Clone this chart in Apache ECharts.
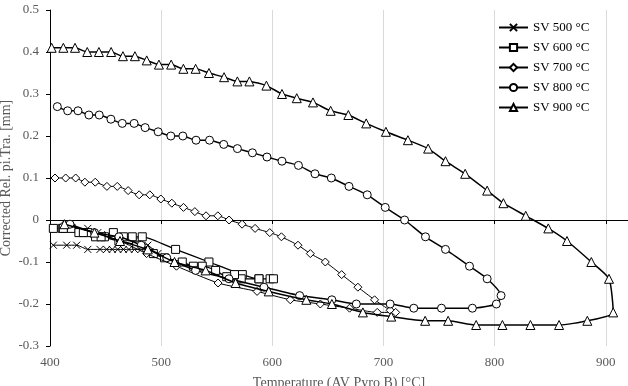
<!DOCTYPE html>
<html>
<head>
<meta charset="utf-8">
<script src="https://cdn.jsdelivr.net/npm/echarts@6/dist/echarts.min.js"></script>
<style>
  html, body { margin: 0; padding: 0; background: #fff; }
  #chart1 { width: 628px; height: 386px; }
</style>
</head>
<body>
<div id="chart1"></div>
<script>
// temperature [°C], displacement [mm]
var sv500 = [[403,-0.06],[415,-0.06],[424,-0.06],[434,-0.07],[445,-0.07],[451,-0.07],[456,-0.07],[461,-0.07],[466,-0.07],[471,-0.07],[476,-0.07],[482,-0.07],[490,-0.075],[497,-0.08],
    [488,-0.06],[476,-0.05],[465,-0.04],[452,-0.035],[443,-0.03],[434,-0.02]];
var sv600 = [[403,-0.02],[411,-0.02],[419,-0.02],[426,-0.03],[434,-0.03],[441,-0.04],[449,-0.04],[457,-0.03],[466,-0.04],[474,-0.04],[483,-0.04],[513,-0.07],[543,-0.10],[573,-0.13],[588,-0.14],[598,-0.14],[601,-0.14],
    [588,-0.14],[572,-0.14],[566,-0.13],[559,-0.135],[549,-0.12],[537,-0.11],[529,-0.11],[519,-0.10],[503,-0.09],[493,-0.08],[478,-0.06],[462,-0.05],[446,-0.04],[430,-0.03],[412,-0.02]];
var sv700 = [[404.5,0.10],[414.1,0.10],[423.1,0.10],[431.4,0.09],[440.7,0.09],[451.2,0.08],[460.5,0.08],[470.3,0.07],[480.2,0.06],[489.8,0.06],[499.7,0.05],[509.6,0.04],[520.1,0.03],[530.3,0.02],[540.4,0.01],[551,0.01],[561.1,0.00],[572.8,-0.01],[584.5,-0.02],[597.7,-0.03],[608.2,-0.04],[623.1,-0.06],[634.2,-0.08],[647.7,-0.10],[662.4,-0.13],[677,-0.16],[692,-0.19],[706,-0.215],[711,-0.22],
    [694.4,-0.22],[669.5,-0.21],[643.2,-0.20],[616.2,-0.19],[586.3,-0.17],[551.2,-0.15],[513.8,-0.11],[486.9,-0.08],[463,-0.05],[440,-0.03],[413,-0.01]];
var sv800 = [[406.6,0.27],[415.9,0.26],[425.2,0.26],[435,0.25],[444.3,0.25],[454.8,0.24],[465,0.23],[475.7,0.23],[485.6,0.22],[497.3,0.21],[508.7,0.20],[519.5,0.20],[531.4,0.19],[543.5,0.19],[556.3,0.18],[568.6,0.17],[582.1,0.16],[595.2,0.15],[608.7,0.14],[623.5,0.13],[638.4,0.11],[653.1,0.10],[669,0.08],[685.4,0.06],[701.6,0.03],[719,0.00],[737.8,-0.04],[755.8,-0.07],[777.4,-0.11],[793.3,-0.14],[805.8,-0.18],[801.6,-0.20],
    [780,-0.21],[752.2,-0.21],[727.3,-0.21],[706,-0.20],[675.6,-0.20],[653.6,-0.19],[624.6,-0.18],[592.5,-0.16],[561,-0.14],[531,-0.12],[505,-0.09],[482,-0.06],[462,-0.04],[440,-0.03],[418,-0.01]];
var sv900 = [[401.5,0.41],[412,0.41],[422.5,0.41],[433.5,0.40],[444,0.40],[455,0.40],[465.6,0.39],[476.4,0.39],[487,0.38],[498,0.37],[509,0.37],[520,0.36],[531,0.36],[543,0.35],[556.6,0.34],[568.6,0.33],[579.4,0.33],[594.7,0.32],[608.7,0.30],[622,0.29],[636.6,0.28],[652.5,0.26],[668.4,0.25],[684.5,0.23],[702.2,0.21],[722,0.19],[740.2,0.17],[755.8,0.14],[773.5,0.11],[793.3,0.07],[807.9,0.04],[828,0.01],[848.3,-0.02],[865.1,-0.05],[887,-0.10],[902.9,-0.14],[906.7,-0.22],
    [883.4,-0.24],[858,-0.25],[832.2,-0.25],[807,-0.25],[783.4,-0.25],[758.2,-0.24],[737.5,-0.24],[707,-0.23],[681.5,-0.22],[653.6,-0.20],[630.6,-0.19],[596.8,-0.17],[567,-0.15],[540,-0.12],[512,-0.10],[488,-0.07],[463,-0.05],[440,-0.03],[413,-0.01]];

var names = ['SV 500 °C', 'SV 600 °C', 'SV 700 °C', 'SV 800 °C', 'SV 900 °C'];
var datas = [sv500, sv600, sv700, sv800, sv900];
var symbols = ['path://M0,0L10,10M10,0L0,10', 'rect', 'diamond', 'circle', 'triangle'];
var sizes = [7, 8, 8, 8, 9];
var widths = [1, 1.3, 1, 1.5, 1.5];

var font = 'Liberation Serif';
var chart = echarts.init(document.getElementById('chart1'));

var series = names.map(function (n, i) {
    return {
        name: n,
        type: 'line',
        data: datas[i],
        symbol: symbols[i],
        symbolSize: sizes[i],
        showAllSymbol: true,
        smooth: 0.2,
        lineStyle: { color: '#000', width: widths[i] },
        itemStyle: { color: i === 0 ? '#000' : '#fff', borderColor: '#000', borderWidth: 1 },
        emphasis: { disabled: true },
        z: 3 + i
    };
});

var option = {
    animation: false,
    grid: { left: 50, right: 0, top: 10, bottom: 40, outerBoundsMode: 'none', containLabel: false },
    legend: {
        orient: 'vertical',
        left: 498, top: 21, padding: 0,
        itemWidth: 29, itemHeight: 9, itemGap: 7,
        textStyle: { fontFamily: font, fontSize: 13, color: '#000' },
        data: names
    },
    xAxis: [{
        type: 'value', min: 400, max: 920, interval: 100,
        name: 'Temperature (AV Pyro B) [°C]', nameLocation: 'middle', nameGap: 30,
        nameTextStyle: { fontFamily: font, fontSize: 14, color: '#595959' },
        axisLine: { show: false, onZero: false },
        axisTick: { show: false },
        axisLabel: {
            fontFamily: font, fontSize: 13, color: '#595959', margin: 10,
            formatter: function (v) { return v % 100 === 0 ? v : ''; }
        },
        splitLine: { show: true, lineStyle: { color: '#d9d9d9', width: 1 } }
    }, {
        type: 'value', min: 400, max: 920, interval: 100, position: 'bottom',
        axisLine: { show: true, onZero: true, lineStyle: { color: '#000', width: 1 } },
        axisTick: { show: true, length: 4, lineStyle: { color: '#000' } },
        axisLabel: { show: false },
        splitLine: { show: false }
    }],
    yAxis: {
        type: 'value', min: -0.3, max: 0.5, interval: 0.1,
        name: 'Corrected Rel. pi.Tra. [mm]', nameLocation: 'middle', nameGap: 37,
        nameMoveOverlap: false,
        nameTextStyle: { fontFamily: font, fontSize: 14, color: '#595959' },
        axisLine: { show: true, lineStyle: { color: '#000', width: 1 } },
        axisTick: { show: true, length: 4, lineStyle: { color: '#000' } },
        axisLabel: {
            fontFamily: font, fontSize: 13, color: '#595959', margin: 11,
            formatter: function (v) { return Math.round(v * 10) / 10; }
        },
        splitLine: { show: false }
    },
    series: series
};
chart.setOption(option);
</script>
</body>
</html>
